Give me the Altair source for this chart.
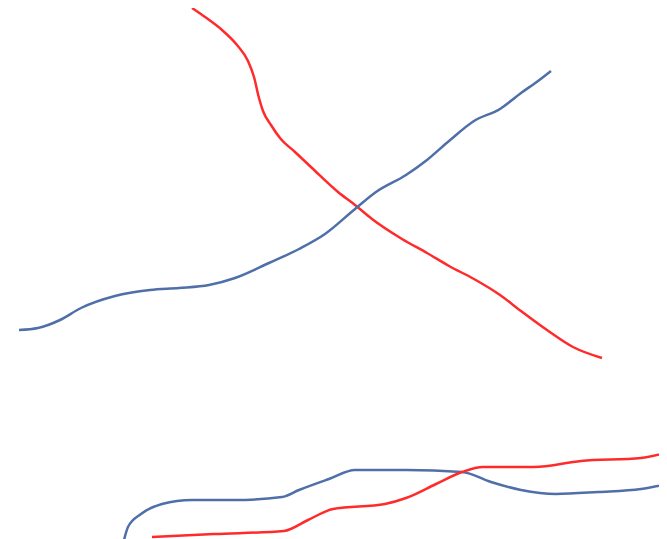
import altair as alt
import pandas as pd

# Series (x, y in arbitrary units)
demand_x = [18.4, 19.7, 21.4, 22.9, 24.0, 24.6, 25.1, 25.5, 26.3, 27.2, 28.7, 30.4, 33.0, 34.7, 36.4, 39.4, 41.9, 44.1, 46.6, 49.2, 51.3, 53.9, 56.5, 59.4]
demand_y = [56.0, 55.1, 53.8, 52.3, 50.7, 49.1, 47.0, 45.7, 44.3, 43.0, 41.6, 40.0, 37.6, 36.3, 34.9, 32.9, 31.5, 30.2, 28.9, 27.3, 25.7, 23.8, 22.1, 21.0]

supply_x = [1.1, 3.0, 5.2, 7.3, 10.7, 14.2, 17.1, 20.1, 22.7, 26.1, 29.1, 31.7, 34.7, 36.8, 39.8, 41.9, 44.1, 46.6, 49.2, 51.3, 53.0, 54.3]
supply_y = [23.8, 24.0, 24.8, 26.0, 27.2, 27.8, 28.0, 28.3, 29.0, 30.5, 31.9, 33.4, 35.9, 37.6, 39.3, 40.8, 42.7, 44.7, 45.9, 47.5, 48.7, 49.7]

low_blue_x = [11.6, 12.0, 13.3, 15.4, 18.4, 22.7, 27.4, 29.1, 32.1, 34.7, 39.8, 45.4, 48.3, 51.3, 54.8, 59.0, 63.3, 66.4]
low_blue_y = [2.8, 4.1, 5.4, 6.4, 6.8, 6.8, 7.1, 7.8, 8.9, 9.8, 9.8, 9.6, 8.6, 7.8, 7.4, 7.6, 7.9, 8.5]

low_red_x = [14.4, 20.6, 27.6, 30.0, 32.5, 37.7, 39.8, 42.8, 45.4, 47.5, 52.6, 57.3, 63.3, 66.4]
low_red_y = [3.1, 3.4, 3.7, 4.8, 5.9, 6.4, 7.0, 8.4, 9.6, 10.1, 10.1, 10.7, 11.0, 11.7]

series = [
    ("demand", demand_x, demand_y),
    ("supply", supply_x, supply_y),
    ("low_blue", low_blue_x, low_blue_y),
    ("low_red", low_red_x, low_red_y),
]
rows = []
for name, xs, ys in series:
    for i, (x, y) in enumerate(zip(xs, ys)):
        rows.append({"series": name, "x": x, "y": y, "i": i})
df = pd.DataFrame(rows)

chart = (
    alt.Chart(df)
    .mark_line(interpolate="monotone", strokeWidth=2.5)
    .encode(
        x=alt.X("x:Q", axis=None, scale=alt.Scale(domain=[0, 65.1], nice=False, zero=False)),
        y=alt.Y("y:Q", axis=None, scale=alt.Scale(domain=[0, 56], nice=False, zero=False)),
        color=alt.Color(
            "series:N",
            legend=None,
            scale=alt.Scale(
                domain=["demand", "supply", "low_blue", "low_red"],
                range=["#ff2b2b", "#4f6fa8", "#4f6fa8", "#ff2b2b"],
            ),
        ),
        order="i:Q",
    )
    .properties(width=651, height=560, padding=0, autosize=alt.AutoSizeParams(type="none"))
    .configure_view(stroke=None)
)

chart.save("out.html", embed_options={"renderer": "svg", "actions": False})
